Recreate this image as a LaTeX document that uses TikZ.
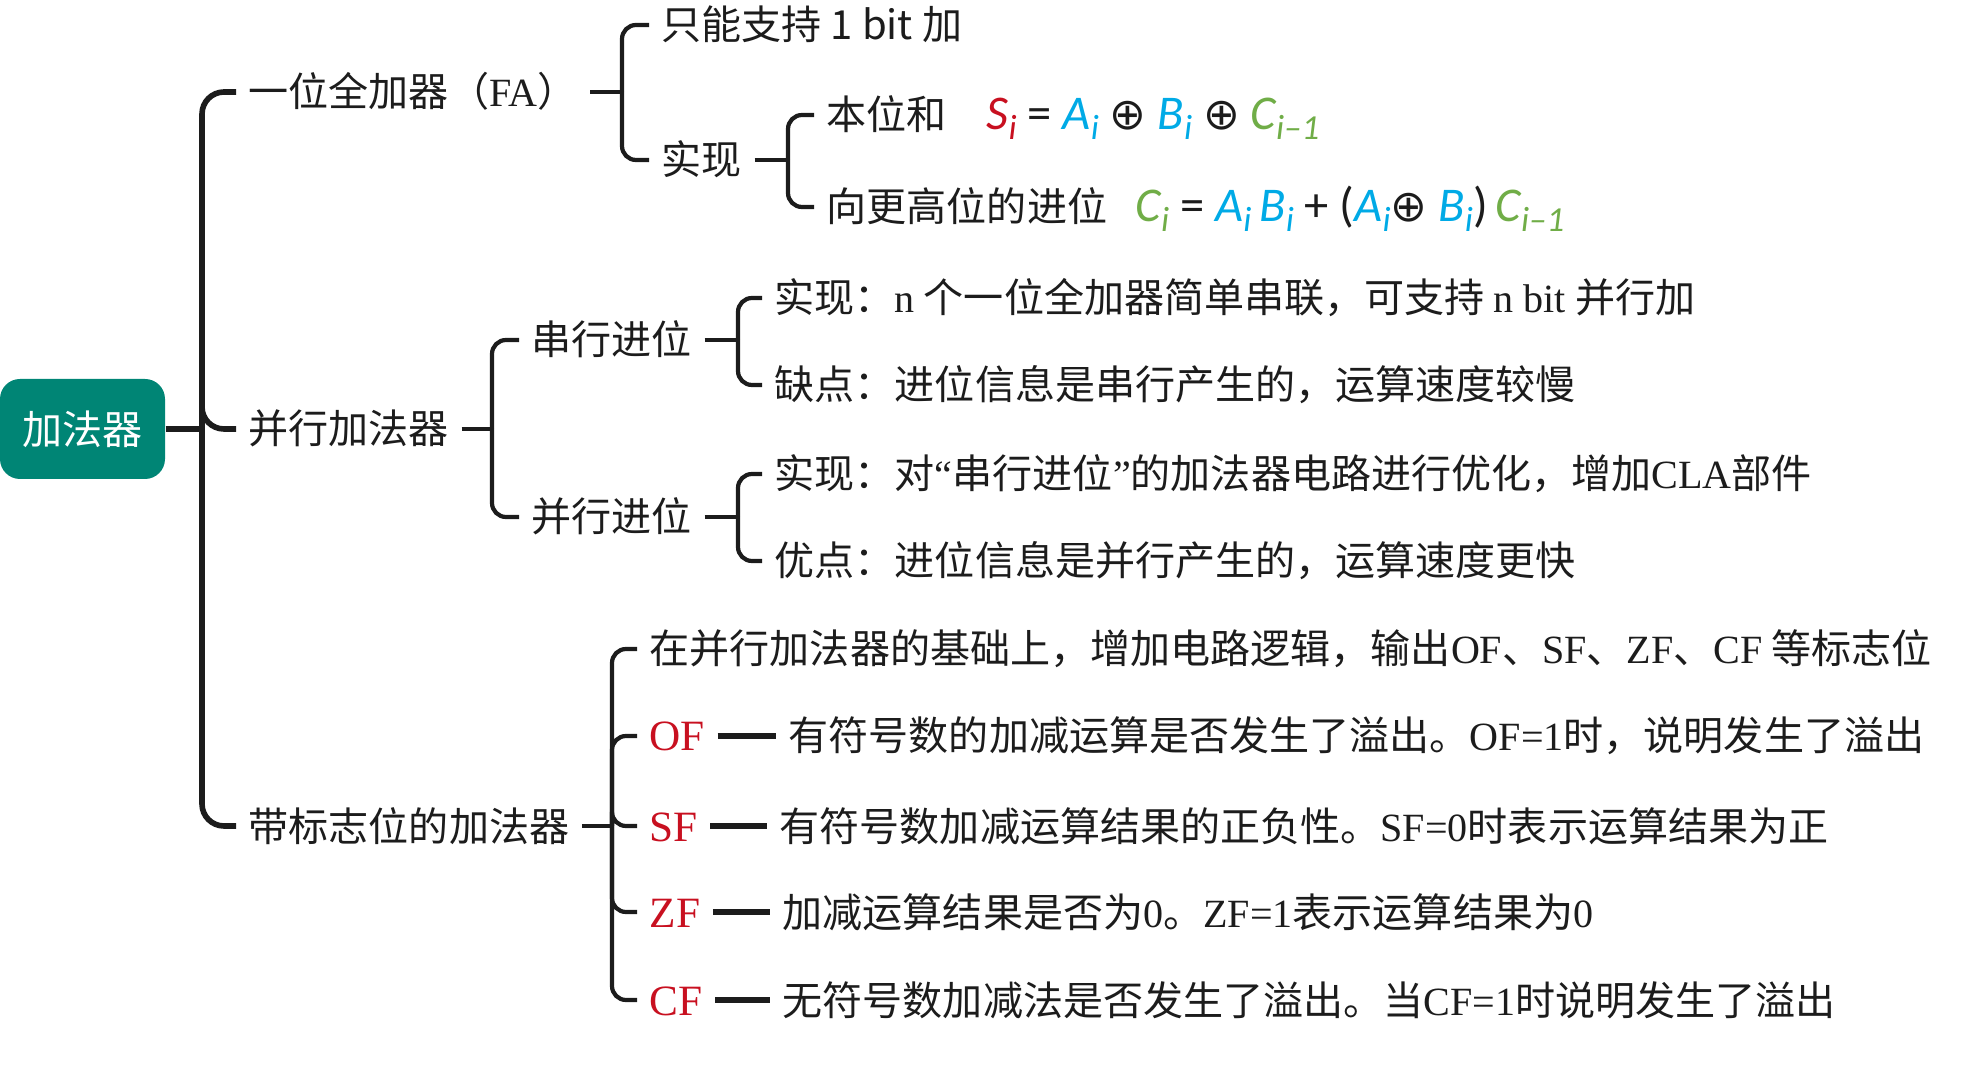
\documentclass[tikz,border=0pt]{standalone}
\usepackage{fontspec}
\setmainfont{Noto Sans CJK SC}
\newfontfamily\serifpart{Liberation Serif}
\newfontfamily\calpart{Carlito}
\newfontfamily\sympart{DejaVu Sans}
\usetikzlibrary{calc}
\definecolor{AddTeal}{RGB}{0,133,117}
\definecolor{AddRed}{RGB}{200,16,32}
\definecolor{AddBlue}{RGB}{0,170,230}
\definecolor{AddGreen}{RGB}{112,173,71}
\definecolor{AddInk}{RGB}{28,28,28}
\newcommand{\fv}[3]{{\color{#1}\itshape #2\raisebox{-0.4ex}{\fontsize{10}{11}\selectfont #3}}}
\newcommand{\xor}{{\sympart\fontsize{12.5}{13}\selectfont ⊕}}

\begin{document}
\begin{tikzpicture}[x=1mm,y=1mm,
    every node/.style={font=\fontsize{11.4}{13}\selectfont, text=AddInk},
    item/.style={anchor=west, inner xsep=1.2mm, inner ysep=0.5mm, text height=3.5mm, text depth=0.5mm},
    flagtag/.style={item, font=\serifpart\fontsize{12.3}{14}\selectfont, text=AddRed},
    formula/.style={anchor=base west, inner sep=0pt, font=\calpart\fontsize{13.8}{15}\selectfont},
    rootbox/.style={fill=AddTeal, rounded corners=2mm, minimum width=16.5mm, minimum height=10mm, text=white, inner sep=0pt},
    trunk/.style={draw=AddInk, line width=1.6pt, rounded corners=2.2mm},
    branch/.style={draw=AddInk, line width=1.2pt, rounded corners=1.4mm},
    flagdash/.style={draw=AddInk, line width=1.7pt}]
  \path[use as bounding box] (0,0) rectangle (197.7,106.5);

  % root and first level
  \node[rootbox] (root) at (8.25,63.6) {加法器};
  \node[item] (fa) at (23.6,97.3) {一位全加器（{\serifpart FA}）};
  \node[item] (par) at (23.6,63.6) {并行加法器};
  \node[item] (flag) at (23.6,23.9) {带标志位的加法器};

  % full adder
  \node[item] (fa1) at (64.9,104.0) {只能支持 1 bit 加};
  \node[item] (impl) at (64.9,90.5) {实现};
  \node[item] (sum) at (81.4,95.0) {本位和};
  \node[formula] (sumf) at (98.6,93.5) {\fv{AddRed}{S}{i} = \fv{AddBlue}{A}{i} \xor{} \fv{AddBlue}{B}{i} \xor{} \fv{AddGreen}{C}{i–1}};
  \node[item] (carry) at (81.4,85.8) {向更高位的进位};
  \node[formula] (carryf) at (113.5,84.3) {\fv{AddGreen}{C}{i} = \fv{AddBlue}{A}{i}\,\fv{AddBlue}{B}{i} + (\fv{AddBlue}{A}{i}\xor{} \fv{AddBlue}{B}{i})\,\fv{AddGreen}{C}{i–1}};

  % parallel adder
  \node[item] (ser) at (51.9,72.5) {串行进位};
  \node[item] (cla) at (51.9,54.8) {并行进位};
  \node[item] (ser1) at (76.2,76.7) {实现：{\serifpart n} 个一位全加器简单串联，可支持 {\serifpart n bit} 并行加};
  \node[item] (ser2) at (76.2,68.0) {缺点：进位信息是串行产生的，运算速度较慢};
  \node[item] (cla1) at (76.2,59.1) {实现：对{\serifpart “}串行进位{\serifpart ”}的加法器电路进行优化，增加{\serifpart CLA}部件};
  \node[item] (cla2) at (76.2,50.4) {优点：进位信息是并行产生的，运算速度更快};

  % flags
  \node[item] (flag0) at (63.7,41.6) {在并行加法器的基础上，增加电路逻辑，输出{\serifpart OF}、{\serifpart SF}、{\serifpart ZF}、{\serifpart CF} 等标志位};
  \node[flagtag] (of) at (63.7,32.9) {OF};
  \node[flagtag] (sf) at (63.7,23.9) {SF};
  \node[flagtag] (zf) at (63.7,15.3) {ZF};
  \node[flagtag] (cf) at (63.7,6.5) {CF};
  \node[item] (ofd) at (77.6,32.9) {有符号数的加减运算是否发生了溢出。{\serifpart OF=1}时，说明发生了溢出};
  \node[item] (sfd) at (76.7,23.9) {有符号数加减运算结果的正负性。{\serifpart SF=0}时表示运算结果为正};
  \node[item] (zfd) at (77.0,15.3) {加减运算结果是否为{\serifpart 0}。{\serifpart ZF=1}表示运算结果为{\serifpart 0}};
  \node[item] (cfd) at (77.0,6.5) {无符号数加减法是否发生了溢出。当{\serifpart CF=1}时说明发生了溢出};

  % junctions
  \coordinate (jroot) at (20.2,63.6);
  \coordinate (jfa) at (62.2,97.3);
  \coordinate (jimpl) at (78.8,90.5);
  \coordinate (jpar) at (49.2,63.6);
  \coordinate (jser) at (73.8,72.5);
  \coordinate (jcla) at (73.8,54.8);
  \coordinate (jflag) at (61.2,23.9);

  % connectors
  \draw[trunk] (root.east) -- (jroot);
  \draw[trunk] (jroot) |- (fa.west);
  \draw[trunk] (jroot) |- (par.west);
  \draw[trunk] (jroot) |- (flag.west);

  \draw[branch] (fa.east) -- (jfa);
  \draw[branch] (jfa) |- (fa1.west);
  \draw[branch] (jfa) |- (impl.west);
  \draw[branch] (impl.east) -- (jimpl);
  \draw[branch] (jimpl) |- (sum.west);
  \draw[branch] (jimpl) |- (carry.west);

  \draw[branch] (par.east) -- (jpar);
  \draw[branch] (jpar) |- (ser.west);
  \draw[branch] (jpar) |- (cla.west);
  \draw[branch] (ser.east) -- (jser);
  \draw[branch] (jser) |- (ser1.west);
  \draw[branch] (jser) |- (ser2.west);
  \draw[branch] (cla.east) -- (jcla);
  \draw[branch] (jcla) |- (cla1.west);
  \draw[branch] (jcla) |- (cla2.west);

  \draw[branch] (flag.east) -- (jflag);
  \draw[branch] (jflag) |- (flag0.west);
  \draw[branch] (jflag) |- (of.west);
  \draw[branch] (jflag) |- (sf.west);
  \draw[branch] (jflag) |- (zf.west);
  \draw[branch] (jflag) |- (cf.west);
  \draw[flagdash] (of.east) -- (ofd.west);
  \draw[flagdash] (sf.east) -- (sfd.west);
  \draw[flagdash] (zf.east) -- (zfd.west);
  \draw[flagdash] (cf.east) -- (cfd.west);
\end{tikzpicture}
\end{document}
